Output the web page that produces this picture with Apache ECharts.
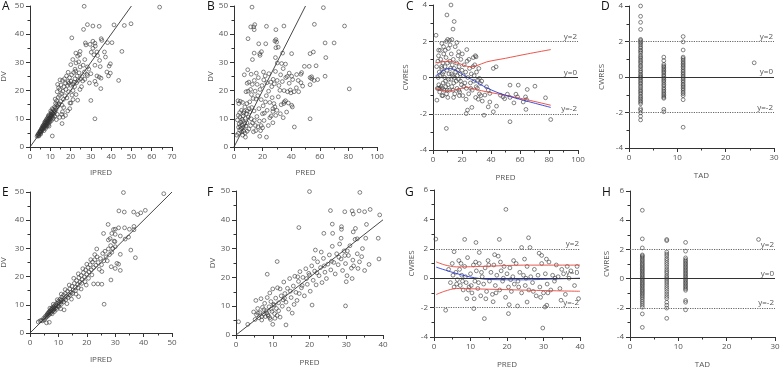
<!DOCTYPE html>
<html>
<head>
<meta charset="utf-8">
<script src="https://cdn.jsdelivr.net/npm/echarts@6/dist/echarts.min.js"></script>
<style>
html, body { margin: 0; padding: 0; background: #fff; }
#chart { width: 780px; height: 369px; }
</style>
</head>
<body>
<div id="chart"></div>
<script>
// ---- data ----
// A: IPRED vs DV (top row)
let ipredDvTop = [
    [3.5,3.8],[3.8,4.3],[4.1,4.0],[4.3,4.8],[4.6,4.5],[4.8,5.3],[5.0,5.0],[5.2,5.8],[5.4,5.3],[5.6,6.2],[5.8,5.7],[6.0,6.8],[6.1,6.1],[6.3,7.3],[6.5,6.4],[6.6,7.0],[6.8,7.8],[7.0,6.8],[7.1,7.4],[7.3,8.3],[7.5,7.2],[7.6,7.9],[7.8,8.7],[8.0,7.6],[8.1,8.3],[8.3,9.2],[8.5,8.0],[8.6,8.8],[8.8,9.8],[9.0,8.6],[9.1,9.4],[9.3,10.3],[9.5,9.1],[9.6,10.0],[9.8,11.0],[10.0,9.7],[10.1,10.6],[10.3,11.6],[10.5,10.2],[10.7,11.2],[10.9,12.4],[11.1,10.8],[11.3,12.0],[11.5,13.3],[11.7,11.6],[11.9,12.8],[12.1,14.2],[12.3,12.4],[6.9,5.8],[7.7,6.6],[8.4,7.3],[9.2,8.0],[9.9,8.9],[10.6,9.4],[11.4,10.1],[12.2,10.9],[5.3,4.6],[7.4,9.0],[8.2,9.9],[9.0,11.0],[10.2,12.8],[11.0,13.6],[4.4,3.9],[9.4,7.4],[13.0,9.7],
    [4.2,4.6],[4.9,5.6],[5.7,6.6],[6.4,7.6],[7.2,8.6],[7.9,9.4],[8.7,10.4],[9.4,11.4],[10.4,12.2],[6.0,6.4],[6.7,7.2],[7.4,7.7],[8.1,8.6],[8.9,9.2],[9.7,10.4],[10.4,11.0],[11.2,11.8],[5.1,5.5],[12.6,13.8],[13.2,15.0],
    [12.6,15.5],[12.8,13.2],[13.1,16.4],[13.4,19.6],[13.6,14.3],[13.9,17.6],[14.1,21.0],[14.3,15.4],[14.6,18.3],[14.8,20.4],[15.1,16.2],[15.3,22.0],[15.5,18.9],[15.8,14.8],[16.0,23.6],[16.2,19.8],[16.5,16.9],[16.7,21.4],[17.0,24.2],[17.2,18.2],[17.5,22.6],[17.7,20.4],[18.0,25.2],[18.2,17.4],[18.5,21.8],[18.7,23.2],[19.0,19.6],[19.2,22.6],[19.5,24.6],[19.7,15.6],[20.0,21.9],[20.2,23.3],[20.5,25.6],[20.7,18.4],[21.0,22.4],[21.2,20.0],[21.5,26.4],[21.7,23.0],[22.0,21.4],[22.2,24.2],[22.5,26.9],[22.7,18.6],[23.0,22.8],[23.2,25.2],[23.5,16.6],[23.8,23.6],[24.2,26.3],[24.6,20.4],[25.0,24.2],[25.4,21.4],[14.6,10.5],[15.6,11.6],[16.3,10.6],[15.8,8.3],[17.5,11.2],[16.6,14.0],[18.6,12.8],[19.6,13.6],[20.2,15.6],[21.2,16.8],[13.4,11.6],[14.1,15.0],[16.0,12.5],[11.0,3.9],[12.4,17.0],[13.6,22.2],[14.8,23.8],[18.8,26.5],[20.1,29.2],
    [26.7,49.9],[63.9,49.6],[49.8,43.7],[46.5,43.1],[41.4,43.3],[34.1,42.8],[31.0,42.9],[28.3,43.4],[26.4,41.7],[20.6,38.7],[35.1,38.4],[35.4,37.8],[31.0,37.5],[38.2,37.0],[40.4,37.0],[32.0,36.8],[27.3,36.9],[27.6,36.2],[32.2,35.8],[45.3,33.9],[36.7,33.7],[33.0,33.7],[24.7,33.9],[22.6,33.3],[24.4,32.7],[23.5,32.2],[31.5,32.7],[33.3,32.4],[21.1,31.0],[37.2,31.9],[39.6,29.5],[34.3,30.7],[22.7,29.8],[32.0,29.0],[28.3,28.4],[34.6,28.5],[39.0,28.7],[24.7,28.4],[37.9,26.6],[39.6,26.2],[38.7,25.2],[34.1,24.8],[33.0,25.2],[35.0,24.4],[28.3,25.3],[26.8,26.6],[29.3,22.7],[32.0,23.3],[32.6,22.2],[34.9,20.7],[43.7,23.6],[30.0,16.5],[32.0,10.0],[27.0,24.0],[28.0,25.8],[26.0,23.4],[30.0,26.0],[29.0,27.6],[25.6,25.0],[27.0,31.0],[24.0,30.2],[30.2,33.6],[31.0,35.0],[29.6,36.4],[22.2,27.6],[26.2,29.0]
];

// B: PRED vs DV (top row)
let predDvTop = [
    [12.6,49.6],[62.5,49.4],[56.2,43.5],[77.3,42.9],[34.9,42.9],[22.7,42.8],[14.5,43.4],[13.8,42.6],[11.7,42.6],[14.1,41.6],[29.3,41.6],[9.8,38.4],[29.3,38.1],[28.6,37.6],[29.8,37.2],[17.3,36.6],[22.2,36.6],[63.7,36.9],[70.0,36.9],[29.3,35.2],[30.9,35.4],[14.1,33.3],[18.0,33.1],[19.2,33.8],[34.0,33.3],[40.3,33.1],[55.5,33.7],[53.2,33.1],[18.2,32.5],[29.0,31.7],[64.2,31.7],[12.9,31.0],[33.3,29.6],[30.3,29.8],[34.4,27.8],[49.2,28.6],[52.6,28.6],[57.4,28.8],[54.3,24.9],[54.3,24.2],[53.2,24.6],[58.5,23.9],[63.7,25.1],[56.0,23.6],[47.3,26.4],[46.8,25.8],[43.8,25.7],[41.0,23.9],[40.3,25.1],[44.9,23.6],[38.6,22.6],[80.6,20.6],[53.2,22.1],[39.8,19.2],[40.3,14.8],[40.8,14.2],[32.1,20.1],[35.1,16.0],[36.8,12.4],[34.4,10.4],[42.2,7.1],[53.2,10.0],[18.0,3.8],[22.7,3.5],[8.0,3.5],[6.8,5.6],[25.1,10.4],[27.2,13.6],[27.9,15.4],[28.6,14.2],[26.7,17.5],[27.2,12.6],[19.9,11.8],[2.8,16.4],
    [20.6,26.6],[21.8,25.2],[23.0,22.8],[24.4,26.0],[25.8,23.0],[26.4,21.4],[27.4,24.0],[28.2,22.4],[29.0,26.8],[30.2,23.6],[31.4,21.8],[32.6,25.6],[33.8,23.2],[35.0,20.0],[36.2,24.6],[37.4,19.6],[38.6,26.2],[39.4,20.2],[42.0,19.6],[43.6,21.0],[45.2,19.6],[46.8,22.8],[48.0,21.6],[36.0,29.4],[37.2,25.0],[31.0,17.8],[33.0,15.0],[30.0,13.0],[29.2,11.2],[32.4,11.8],[34.8,15.4],[36.0,16.4],[38.0,15.6],[24.2,19.8],[22.6,18.2],[25.0,15.8],[23.2,13.0],[21.2,12.0],[26.0,11.0],[27.2,8.6],[24.0,7.6],[21.0,9.4],[20.0,6.8],[19.0,7.6],[17.8,9.2],[20.4,14.6],[22.0,16.0],[18.2,20.4],[19.6,21.8],[20.8,23.8],[17.0,24.6],[15.6,26.2],[16.2,22.2],[14.2,23.6],[12.8,22.2],[11.6,20.4],[10.4,23.0],[9.2,22.6],[8.4,19.6],[7.2,25.6],[9.8,19.8],[12.2,18.6],[14.8,19.8],[15.4,17.0],[16.6,18.2],[13.4,17.2],[11.0,16.0],[9.0,15.4],[7.6,14.2],[6.0,15.8],[4.4,16.2],[3.4,15.4],[5.2,13.0],[4.0,12.2],[3.0,11.2],[2.4,9.6],[3.6,8.2],[4.4,7.4],[5.0,6.6],[5.8,7.8],[6.6,7.0],[7.4,8.4],[8.2,7.4],[9.0,8.6],[3.2,7.0],[4.0,6.0],[4.8,8.8],[5.6,9.8],[6.4,11.0],[7.0,12.6],[8.6,11.8],[10.0,10.6],[11.0,12.4],[12.0,10.0],[13.0,8.6],[14.2,9.4],[15.0,7.6],[16.0,10.8],[14.0,12.8],[12.4,14.0],[10.6,13.6],[9.4,12.8],[8.0,10.2],[6.2,9.2],[5.4,5.4],[3.0,4.8],[2.0,4.2],[4.2,10.6],[6.8,12.0],[13.6,5.4],[15.2,5.8],[16.8,7.2],[18.6,5.8],[11.6,7.6],[10.4,6.4],[9.2,5.6],[7.8,5.0],[6.0,4.2],[17.4,13.6],[19.0,16.8],[12.0,25.8],[9.6,27.4]
];

// C: PRED vs CWRES (top row)
let predCwresTop = [
    [12.4,4.0],[9.6,3.45],[14.6,3.09],[13.8,2.67],[2.1,2.33],[9.2,1.99],[10.1,2.1],[11.5,2.05],[13.0,2.1],[16.5,1.93],[6.1,1.88],[7.3,1.7],[17.7,1.42],[3.9,1.51],[23.3,1.54],[29.7,1.14],[41.6,0.5],[43.5,0.59],[70.3,-0.48],[65.0,-0.66],[58.8,-0.42],[53.1,-0.42],[57.2,-0.92],[58.3,-1.07],[63.8,-1.07],[64.5,-1.22],[77.6,-1.12],[53.1,-1.1],[51.3,-0.92],[55.8,-1.4],[62.2,-1.35],[64.1,-1.76],[53.1,-2.44],[81.2,-2.32],[41.6,-1.89],[35.2,-2.08],[23.8,-1.8],[22.9,-1.99],[9.2,-2.81],[2.7,-1.25],[26.8,-1.65],[39.2,-1.35],[38.1,-1.62],[43.8,-1.58],[46.5,-0.98],[48.3,-1.07],[49.4,-1.17],[36.9,-0.51],[38.1,-0.7],[35.8,-0.97],[39.2,-0.88],[32.0,-0.05],[30.9,-0.14],[32.6,-0.33],[29.8,-0.51],
    [2.5,0.6],[3.0,-0.6],[3.4,0.9],[3.8,1.2],[4.0,-0.4],[4.3,0.3],[4.6,-0.8],[5.0,0.1],[5.3,1.0],[5.6,-0.5],[6.0,0.5],[6.2,-1.0],[6.5,0.2],[6.8,0.8],[7.0,-0.3],[7.4,1.3],[7.7,-0.7],[8.0,0.0],[8.3,0.6],[8.6,-0.2],[9.0,1.1],[9.3,-0.9],[9.6,0.4],[10.0,0.8],[10.3,-0.4],[10.6,1.6],[11.0,0.2],[11.3,-0.7],[11.6,0.9],[12.0,0.5],[12.3,-0.1],[12.6,1.3],[13.0,-0.5],[13.3,0.7],[13.6,0.1],[14.0,1.0],[14.3,-0.3],[14.6,0.5],[15.0,-0.9],[15.3,1.7],[15.6,0.3],[16.0,-0.2],[16.3,0.8],[16.6,-0.6],[17.0,0.4],[17.3,1.2],[17.6,-0.1],[18.0,0.6],[18.4,-0.8],[18.8,0.2],[19.2,1.0],[19.6,-0.4],[20.0,0.4],[20.5,-1.0],[21.0,0.1],[21.5,0.7],[22.0,-0.3],[22.5,0.3],[23.0,-0.6],[23.5,0.9],[24.0,0.0],[24.6,-0.9],[25.2,0.5],[25.8,-0.3],[26.4,0.2],[27.0,-0.7],[27.6,0.6],[28.2,-0.2],[28.8,0.7],[29.4,-1.1],[30.0,0.3],[30.6,-0.6],[31.2,-1.2],[32.0,-0.9],[33.0,-1.0],[34.0,-1.3],[3.6,0.0],[5.8,0.6],[7.2,0.3],[8.8,-0.5],[10.8,-0.1],[12.8,0.2],[14.8,0.0],[16.8,0.1],[19.0,-0.2],[21.2,-0.5],[26.0,-0.6],[28.4,0.1],[4.8,-0.6],[6.4,-0.6],[9.8,-0.7],[13.8,-0.7],[17.8,-0.7],[11.8,1.8],[8.4,1.5],[5.0,1.5],[20.2,1.3],[24.8,1.0],[27.8,1.1],[29.2,1.2],[31.6,0.5],[33.6,-0.2],[22.8,-1.2],[18.2,-1.0],[14.2,-1.1],[10.2,-1.1],[6.8,-1.0],[3.8,-0.6]
];
let loessUpperTop = [[1.6,0.81],[6,0.86],[10.8,0.9],[15,0.84],[19.2,0.74],[22.5,0.64],[25.6,0.59],[29.7,0.64],[37,0.86],[50,1.06],[65,1.3],[81.2,1.54]];
let loessLowerTop = [[1.6,-0.61],[6,-0.7],[10.8,-0.74],[16.5,-0.66],[23.3,-0.55],[29.7,-0.66],[37,-0.79],[50,-0.98],[65,-1.23],[81.2,-1.53]];
let trendTop = [[1.6,0.07],[7.3,0.4],[11.9,0.5],[16.5,0.37],[21,0.13],[26.8,-0.11],[34.8,-0.48],[46.2,-0.88],[62.2,-1.25],[81.2,-1.65]];

// D: TAD vs CWRES (top row), points sit in three sampling-time columns
let tadTimesTop = [2.4, 7.2, 11.2];
let cwresTadTop1 = [4.0,3.42,3.08,2.68,2.12,2.06,1.98,1.91,1.82,1.71,1.63,1.52,1.44,1.35,1.22,1.13,1.05,0.94,0.86,0.77,0.65,0.58,0.47,0.36,0.28,0.17,0.08,0.01,-0.06,-0.15,-0.24,-0.33,-0.41,-0.52,-0.6,-0.71,-0.79,-0.88,-0.97,-1.08,-1.16,-1.25,-1.34,-1.42,-1.51,-1.78,-1.87,-2.02,-2.21,-2.42];
let cwresTadTop2 = [1.12,0.92,0.71,0.62,0.55,0.46,0.38,0.3,0.22,0.12,0.04,-0.05,-0.14,-0.22,-0.31,-0.42,-0.5,-0.61,-0.7,-0.79,-0.88,-0.97,-1.05,-1.14,-1.2,-1.82,-1.96];
let cwresTadTop3 = [2.28,1.98,1.52,1.12,1.04,0.95,0.86,0.77,0.69,0.6,0.52,0.42,0.33,0.24,0.15,0.06,-0.03,-0.12,-0.21,-0.3,-0.4,-0.48,-0.57,-0.66,-0.75,-0.85,-0.94,-1.05,-1.28,-2.83];
let tadOutlierTop = [25.9, 0.8];

// E: IPRED vs DV (bottom row)
let ipredDvBottom = [
    [32.9,49.8],[47.1,49.4],[31.3,43.3],[33.2,42.9],[36.5,42.9],[40.6,43.5],[39.0,42.6],[37.9,42.0],[27.5,38.5],[29.4,36.7],[30.0,36.8],[31.2,37.3],[33.3,37.3],[35.0,36.8],[36.6,37.8],[36.6,36.6],[28.8,35.3],[25.9,35.3],[30.0,35.0],[31.8,34.4],[33.5,33.3],[23.5,29.8],[28.2,33.5],[27.6,33.0],[29.9,32.4],[30.0,30.6],[35.5,29.4],[31.8,27.9],[37.1,26.7],[34.7,34.0],[30.6,24.7],[31.2,24.4],[28.6,23.5],[30.0,22.9],[31.8,22.2],[25.3,21.8],[22.4,17.4],[23.9,17.4],[25.3,17.3],[28.5,18.8],[26.1,10.2],[17.1,12.9],[12.0,8.2],[2.9,3.9],[6.8,3.8],[5.8,3.6],
    [3.5,4.3],[4.0,4.5],[4.4,4.3],[4.8,5.2],[5.0,4.7],[5.3,5.8],[5.5,5.3],[5.8,6.3],[6.0,5.8],[6.2,6.9],[6.4,6.2],[6.6,7.4],[6.8,6.6],[7.0,7.9],[7.2,7.0],[7.4,8.4],[7.6,7.4],[7.8,8.9],[8.0,7.8],[8.2,9.3],[8.4,8.2],[8.6,9.6],[8.8,8.6],[9.0,10.1],[9.2,9.0],[9.5,10.6],[9.8,9.6],[10.0,11.3],[10.3,10.2],[10.6,12.0],[10.9,11.0],[11.2,12.7],[11.5,11.6],[11.8,13.4],[12.1,12.2],[12.4,14.0],[12.8,13.0],[13.2,14.8],[13.6,13.6],[14.0,15.6],[14.4,14.4],[14.8,16.6],[15.2,15.2],[15.6,17.6],[16.0,16.2],[16.4,18.6],[16.8,17.2],[17.2,19.6],[17.6,18.0],[18.0,20.4],[18.4,19.0],[18.8,21.4],[19.2,19.8],[19.6,22.4],[20.0,20.8],[20.4,23.2],[20.8,21.6],[21.2,24.2],[21.6,22.4],[22.0,25.2],[22.4,23.2],[22.8,26.0],[23.2,24.0],[23.6,27.0],[24.0,25.0],[24.4,22.6],[24.8,26.4],[25.2,24.2],[25.6,28.2],[26.0,25.6],[26.4,29.0],[26.8,27.0],[27.2,25.6],[27.6,29.8],[28.0,27.8],[28.4,31.0],[28.8,28.6],[29.2,30.0],[29.6,32.6],
    [7.8,6.8],[8.6,7.6],[9.4,8.4],[10.2,9.4],[11.0,10.2],[11.8,11.0],[12.6,11.8],[13.4,12.6],[14.2,13.4],[15.0,14.0],[16.0,15.0],[17.0,16.0],[18.2,17.6],[19.4,18.2],[20.6,19.4],[21.8,20.6],[7.0,8.8],[8.2,10.2],[9.6,11.8],[11.0,13.8],[12.4,15.4],[13.8,17.0],[15.4,19.4],[17.0,21.0],[18.6,22.8],[20.0,24.4],[21.4,26.0],[22.8,27.8],[14.6,12.0],[13.0,10.4],[10.8,8.6],[16.2,13.8],[18.0,15.6],[19.8,17.0],
    [6.1,6.5],[6.9,7.5],[7.7,8.3],[8.5,9.0],[9.3,9.8],[10.1,10.8],[11.0,11.7],[6.5,7.0],[7.3,7.7],[8.3,8.7]
];

// F: PRED vs DV (bottom row)
let predDvBottom = [
    [20.0,49.8],[33.7,49.5],[25.7,43.2],[29.6,42.8],[31.6,43.1],[33.5,43.1],[35.0,42.8],[36.5,43.6],[39.1,41.7],[31.9,42.0],[17.1,37.3],[26.2,38.5],[28.7,37.6],[28.7,36.7],[32.5,37.0],[31.9,35.8],[35.5,38.4],[23.9,35.3],[26.3,35.3],[35.3,33.6],[33.0,33.4],[38.7,33.6],[28.6,33.6],[21.6,29.5],[30.3,29.2],[34.2,27.2],[38.9,26.4],[36.2,24.5],[33.2,23.1],[31.6,19.6],[30.0,18.5],[29.8,10.1],[20.7,10.4],[11.2,25.5],[8.5,21.1],[0.7,4.6],[3.2,3.7],[13.6,3.5],[10.0,3.7],
    [4.8,8.0],[5.2,5.4],[5.6,7.0],[5.9,9.2],[6.2,6.0],[6.5,7.8],[6.8,12.6],[7.0,5.2],[7.2,9.6],[7.5,7.2],[7.8,11.0],[8.0,6.4],[8.2,8.4],[8.5,13.0],[8.7,7.0],[9.0,9.8],[9.2,6.0],[9.5,11.6],[9.8,8.2],[10.0,16.0],[10.2,10.6],[10.5,7.4],[10.8,12.8],[11.0,9.2],[11.3,16.4],[11.6,11.2],[12.0,6.2],[12.3,13.6],[12.6,10.0],[13.0,18.4],[13.3,14.4],[13.6,11.4],[14.0,16.2],[14.3,9.0],[14.6,19.6],[15.0,13.0],[15.3,7.6],[15.6,17.0],[16.0,20.4],[16.3,14.8],[16.6,12.0],[17.0,18.6],[17.4,22.0],[17.8,16.4],[18.2,20.0],[18.6,13.6],[19.0,23.0],[19.4,17.6],[19.8,21.4],[20.2,15.2],[20.6,24.0],[21.0,19.0],[21.4,22.2],[21.8,17.4],[22.2,25.4],[22.6,20.6],[23.0,23.4],[23.4,18.2],[23.8,26.6],[24.2,21.8],[24.6,19.6],[25.0,24.6],[25.4,27.8],[25.8,22.6],[26.2,30.8],[26.6,25.2],[27.0,21.2],[27.4,28.2],[27.8,24.4],[28.2,31.6],[28.6,26.4],[29.0,22.4],[29.4,29.2],[29.8,24.8],[30.2,20.6],[30.6,27.6],[31.0,31.0],[31.4,23.2],[31.8,26.0],[32.4,33.2],[33.0,28.2],[33.6,25.4],[34.4,30.0],[35.0,22.4],
    [7.6,8.8],[8.4,7.6],[9.6,9.0],[10.4,10.4],[11.6,8.4],[12.8,12.2],[6.0,7.6],[7.0,6.4],[8.8,6.6],[9.4,5.4],[10.6,5.8],[11.2,6.8],[16.8,20.2],[19.2,19.6],[18.0,17.2],[20.0,20.8],[22.0,21.6],[24.0,24.0],[26.0,25.6],[28.0,27.0],[14.8,15.2],[13.2,12.8],[15.8,10.6],[17.2,14.4],[5.4,12.0],[9.2,14.6],[12.0,16.0],[21.2,26.6],[23.2,28.8],[29.6,27.6],[32.0,24.0]
];

// G: PRED vs CWRES (bottom row)
let predCwresBottom = [
    [19.7,4.68],[0.5,2.66],[8.4,2.64],[17.9,2.64],[25.9,2.75],[26.3,2.09],[24.0,2.09],[11.5,2.43],[3.2,-2.18],[10.9,-2.07],[13.8,-2.75],[20.6,-1.8],[20.4,-2.41],[22.9,-1.89],[29.8,-3.39],[30.9,-1.84],[30.4,-1.96],[39.6,-1.39],[25.5,-1.62],[34.8,-1.5],[5.5,1.8],[16.6,1.6],[12.4,1.75],[28.8,1.7],[29.5,1.55],[30.8,1.3],
    [4.0,0.6],[4.5,-0.3],[5.0,1.0],[5.5,-0.6],[6.0,0.4],[6.4,-0.1],[6.8,1.2],[7.2,-0.5],[7.6,0.2],[8.0,-0.8],[8.4,0.8],[8.8,-0.3],[9.2,1.4],[9.6,-0.6],[10.0,0.3],[10.4,-1.0],[10.8,0.9],[11.2,-0.2],[11.6,0.5],[12.0,-0.7],[12.4,1.0],[12.8,-1.2],[13.2,0.1],[13.6,-0.4],[14.0,0.7],[14.4,-0.9],[14.8,1.2],[15.2,-0.2],[15.6,0.4],[16.0,-1.1],[16.4,0.9],[16.8,-0.5],[17.2,0.2],[17.6,1.5],[18.0,-0.8],[18.4,0.5],[18.8,-0.2],[19.2,0.8],[19.6,-1.3],[20.0,0.3],[20.4,-0.6],[20.8,0.7],[21.2,-0.9],[21.6,0.1],[22.0,-0.4],[22.5,1.0],[23.0,-0.2],[23.5,0.4],[24.0,-1.0],[24.5,0.2],[25.0,-0.5],[25.5,0.8],[26.0,-0.8],[26.5,0.1],[27.0,-0.3],[27.5,0.6],[28.0,-1.2],[28.5,0.2],[29.0,-0.6],[29.5,1.0],[30.0,-1.0],[30.5,0.3],[31.0,-0.4],[31.5,1.1],[32.0,-0.8],[32.5,0.2],[33.0,-0.2],[33.5,0.9],[34.0,0.1],[34.5,-0.7],[35.0,0.6],[35.5,0.3],[36.0,-1.1],[36.5,0.8],[37.0,0.0],[37.5,0.5],[38.5,-0.5],[39.2,0.8],
    [5.2,0.2],[6.2,-0.4],[7.0,0.6],[7.8,-0.2],[8.6,0.1],[9.4,-0.8],[10.2,-0.5],[11.0,-1.4],[12.2,-0.3],[13.0,0.4],[9.0,-1.4],[14.2,-1.4],[16.2,-1.6],[17.0,-1.0],[19.0,0.0],[21.0,-0.1],[23.2,-0.6],[25.2,0.0],[27.2,-0.9],[29.2,-1.3],[31.2,-1.0],[33.2,0.0],[24.8,1.3],[21.8,1.2],[18.2,1.1],[15.0,0.9],[11.4,1.1],[7.4,1.0]
];
let loessUpperBottom = [[0.6,1.11],[3,0.9],[6.1,0.77],[10,0.78],[15.3,0.82],[24.5,0.89],[40,0.89]];
let loessLowerBottom = [[0.6,-1.11],[3,-0.88],[6.1,-0.7],[10,-0.72],[15.3,-0.75],[26.3,-0.82],[40,-0.89]];
let trendBottom = [[0.6,0.75],[5.2,0.39],[9.8,0.09],[15.3,-0.09],[24.5,-0.11],[33.7,-0.05],[40,0]];

// H: TAD vs CWRES (bottom row)
let tadTimesBottom = [2.55, 7.6, 11.5];
let cwresTadBottom1 = [4.68,2.72,2.1,1.62,1.55,1.46,1.36,1.26,1.17,1.06,0.97,0.88,0.78,0.69,0.6,0.51,0.41,0.31,0.22,0.12,0.03,-0.06,-0.15,-0.25,-0.34,-0.43,-0.52,-0.62,-0.72,-0.81,-0.9,-1.0,-1.09,-1.2,-1.3,-1.42,-1.55,-1.68,-1.82,-1.96,-2.42,-3.34];
let cwresTadBottom2 = [2.68,2.6,1.82,1.68,1.55,1.38,1.25,1.1,0.96,0.8,0.64,0.5,0.38,0.22,0.1,-0.02,-0.16,-0.3,-0.45,-0.6,-0.74,-0.9,-1.06,-1.22,-1.36,-1.62,-1.82,-2.02,-2.72];
let cwresTadBottom3 = [2.48,1.88,1.42,1.3,1.2,1.1,1.0,0.9,0.8,0.7,0.6,0.5,0.4,0.3,0.2,0.1,0.0,-0.1,-0.2,-0.3,-0.4,-0.5,-0.6,-0.7,-0.8,-1.5,-1.62,-2.14];
let tadOutlierBottom = [26.6, 2.68];

// identity lines and reference levels
let identityTop = [[0, 0], [50, 50]];
let identityBottomE = [[0, 0], [50, 50]];
let identityBottomF = [[0, 0], [40, 40]];
let refLevels = [2, 0, -2];

// ---- layout ----
let fontFamily = '"Open Sans", "Liberation Sans", sans-serif';
let axisColor = '#333';
let labelColor = '#555';

// [left, top, width, height] of each plot area, A..H
let boxes = [
    [30, 6, 142, 141],
    [234, 6, 143, 141],
    [433, 5, 145, 145],
    [629, 6, 145, 142],
    [30, 192, 142, 141],
    [236, 191, 147, 144],
    [434, 190, 146, 147],
    [630, 191, 145, 146]
];
// axis ranges: [min, max, interval, name, nameGap]
let xSpecs = [
    [0, 70, 10, 'IPRED', 22], [0, 100, 20, 'PRED', 22], [0, 100, 20, 'PRED', 24], [0, 30, 10, 'TAD', 24],
    [0, 50, 10, 'IPRED', 23], [0, 40, 10, 'PRED', 24], [0, 40, 10, 'PRED', 24], [0, 30, 10, 'TAD', 24]
];
let ySpecs = [
    [0, 50, 10, 'DV', 22], [0, 50, 10, 'DV', 13], [-4, 4, 2, 'CWRES', 23], [-4, 4, 2, 'CWRES', 23],
    [0, 50, 10, 'DV', 22], [0, 50, 10, 'DV', 16], [-4, 6, 2, 'CWRES', 18], [-4, 6, 2, 'CWRES', 19]
];
let letters = [['A', 2, 1], ['B', 207, 1], ['C', 406, 1], ['D', 601, 1], ['E', 2, 187], ['F', 207, 187], ['G', 405, 187], ['H', 602, 187]];

function axisCommon(spec) {
    return {
        type: 'value',
        min: spec[0],
        max: spec[1],
        interval: spec[2],
        name: spec[3],
        nameLocation: 'middle',
        nameGap: spec[4],
        nameTextStyle: { color: labelColor, fontSize: 8, fontFamily: fontFamily },
        axisLine: { show: true, onZero: false, lineStyle: { color: axisColor, width: 1 } },
        axisTick: { show: true, length: 4, lineStyle: { color: axisColor } },
        minorTick: { show: true, splitNumber: 2, length: 2.5, lineStyle: { color: axisColor } },
        axisLabel: { color: labelColor, fontSize: 8, margin: 6, fontFamily: fontFamily },
        splitLine: { show: false }
    };
}

function columnPoints(times, cols, extra) {
    let pts = [];
    cols.forEach(function(col, i) {
        col.forEach(function(v) { pts.push([times[i], v]); });
    });
    pts.push(extra);
    return pts;
}

function scatterSeries(idx, data, withRefs) {
    let s = {
        type: 'scatter',
        xAxisIndex: idx,
        yAxisIndex: idx,
        data: data,
        symbol: 'circle',
        symbolSize: 3.8,
        itemStyle: { color: 'rgba(0,0,0,0)', borderColor: '#333', borderWidth: 0.75 },
        silent: true
    };
    if (withRefs) {
        s.markLine = {
            silent: true,
            symbol: ['none', 'none'],
            label: { position: 'insideEndTop', fontSize: 8, color: labelColor, distance: 1, fontFamily: fontFamily },
            data: refLevels.map(function(v) {
                return {
                    yAxis: v,
                    label: { formatter: 'y=' + v },
                    lineStyle: v === 0
                        ? { type: 'solid', color: '#333', width: 1 }
                        : { type: 'dotted', color: '#666', width: 1.2 }
                };
            })
        };
    }
    return s;
}

function lineSeries(idx, data, color, smooth) {
    return {
        type: 'line',
        xAxisIndex: idx,
        yAxisIndex: idx,
        data: data,
        showSymbol: false,
        smooth: smooth ? 0.3 : false,
        silent: true,
        lineStyle: { color: color, width: 0.9 },
        z: 3
    };
}

let series = [
    scatterSeries(0, ipredDvTop), lineSeries(0, identityTop, '#333'),
    scatterSeries(1, predDvTop), lineSeries(1, identityTop, '#333'),
    scatterSeries(2, predCwresTop, true),
    lineSeries(2, loessUpperTop, '#e8443a', true), lineSeries(2, loessLowerTop, '#e8443a', true), lineSeries(2, trendTop, '#2a3bd6', true),
    scatterSeries(3, columnPoints(tadTimesTop, [cwresTadTop1, cwresTadTop2, cwresTadTop3], tadOutlierTop), true),
    scatterSeries(4, ipredDvBottom), lineSeries(4, identityBottomE, '#333'),
    scatterSeries(5, predDvBottom), lineSeries(5, identityBottomF, '#333'),
    scatterSeries(6, predCwresBottom, true),
    lineSeries(6, loessUpperBottom, '#e8443a', true), lineSeries(6, loessLowerBottom, '#e8443a', true), lineSeries(6, trendBottom, '#2a3bd6', true),
    scatterSeries(7, columnPoints(tadTimesBottom, [cwresTadBottom1, cwresTadBottom2, cwresTadBottom3], tadOutlierBottom), true)
];

let myChart = echarts.init(document.getElementById('chart'), null, { renderer: 'canvas' });
myChart.setOption({
    animation: false,
    backgroundColor: '#fff',
    grid: boxes.map(function(b) {
        return { left: b[0], top: b[1], width: b[2], height: b[3], containLabel: false, outerBoundsMode: 'none' };
    }),
    xAxis: xSpecs.map(function(s, i) { let a = axisCommon(s); a.gridIndex = i; return a; }),
    yAxis: ySpecs.map(function(s, i) { let a = axisCommon(s); a.gridIndex = i; return a; }),
    graphic: letters.map(function(l) {
        return {
            type: 'text', left: l[1], top: l[2],
            style: { text: l[0], fontSize: 12, fill: '#111', fontFamily: fontFamily }
        };
    }),
    series: series
});
</script>
</body>
</html>
